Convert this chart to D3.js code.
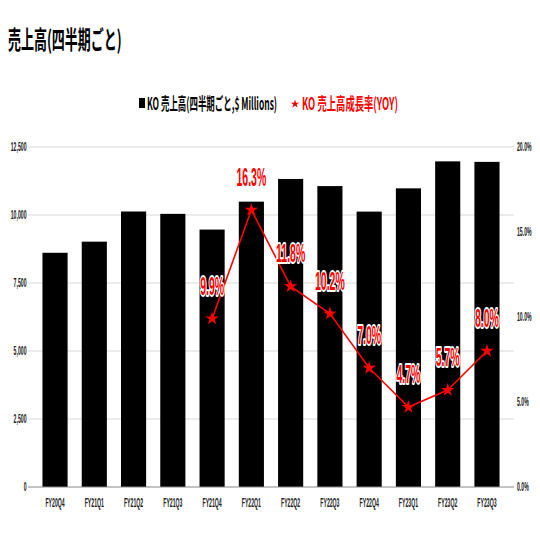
<!DOCTYPE html>
<html><head><meta charset="utf-8">
<script src="https://cdn.jsdelivr.net/npm/d3@7"></script>
<style>
html,body{margin:0;padding:0;background:#fff;}
svg{display:block;}
</style></head>
<body>
<svg id="chart" width="540" height="540"></svg>
<script>
const categories = ["FY20Q4","FY21Q1","FY21Q2","FY21Q3","FY21Q4","FY22Q1","FY22Q2","FY22Q3","FY22Q4","FY23Q1","FY23Q2","FY23Q3"];
const revenue = [8611, 9020, 10129, 10042, 9464, 10491, 11325, 11063, 10125, 10980, 11972, 11953];
const growth = [null, null, null, null, 9.9, 16.3, 11.8, 10.2, 7.0, 4.7, 5.7, 8.0];
const leftTicks = [0, 2500, 5000, 7500, 10000, 12500];
const rightTicks = [0, 5, 10, 15, 20];
const titleText = "売上高(四半期ごと)";
const legendBar = "KO 売上高(四半期ごと,$ Millions)";
const legendLine = "KO 売上高成長率(YOY)";

const svg = d3.select("#chart");
const FONT = "'Liberation Sans', Arial, sans-serif";
const CJK = "'Noto Sans CJK JP', 'Liberation Sans', sans-serif";
const SX = 0.43;

const x = d3.scaleBand().domain(categories).range([35.4, 506.6]).paddingInner(0.36).paddingOuter(0.18);
const yL = d3.scaleLinear().domain([0, 12500]).range([487, 147]);
const yR = d3.scaleLinear().domain([0, 20]).range([487, 147]);

// gridlines
svg.append("g").selectAll("line").data(leftTicks.filter(d => d > 0)).join("line")
  .attr("x1", 28).attr("x2", 514)
  .attr("y1", d => yL(d)).attr("y2", d => yL(d))
  .attr("stroke", "#d9d9d9").attr("stroke-width", 1);

// left axis
const gL = svg.append("g").attr("transform", "translate(28,0)")
  .call(d3.axisLeft(yL).tickValues(leftTicks).tickSize(0).tickPadding(0).tickFormat(d3.format(",")));
gL.select(".domain").remove();
gL.selectAll("text").attr("font-family", FONT).attr("font-size", 12).attr("font-weight", "bold").attr("fill", "#222")
  .attr("x", -1.5 / SX).attr("transform", `scale(${SX},1)`);

// right axis
const gR = svg.append("g").attr("transform", "translate(514,0)")
  .call(d3.axisRight(yR).tickValues(rightTicks).tickSize(0).tickPadding(0).tickFormat(d => d.toFixed(1) + "%"));
gR.select(".domain").remove();
gR.selectAll("text").attr("font-family", FONT).attr("font-size", 12).attr("font-weight", "bold").attr("fill", "#222")
  .attr("x", 3 / SX).attr("transform", `scale(${SX},1)`);

// bars
svg.append("g").selectAll("rect").data(categories).join("rect")
  .attr("x", d => x(d)).attr("width", x.bandwidth())
  .attr("y", (d, i) => yL(revenue[i])).attr("height", (d, i) => yL(0) - yL(revenue[i]))
  .attr("fill", "#000");

// baseline
svg.append("line").attr("x1", 28).attr("x2", 514).attr("y1", yL(0)).attr("y2", yL(0))
  .attr("stroke", "#888").attr("stroke-width", 1.2);

// x axis
const gX = svg.append("g").attr("transform", `translate(0,${yL(0)})`)
  .call(d3.axisBottom(x).tickSize(0).tickPadding(0));
gX.select(".domain").remove();
gX.selectAll("text").attr("font-family", FONT).attr("font-size", 12).attr("font-weight", "bold").attr("fill", "#222")
  .attr("y", 20).attr("dy", "0").attr("transform", `scale(${SX},1)`);

// growth line
const pts = categories.map((c, i) => ({c, v: growth[i]})).filter(d => d.v != null);
const line = d3.line().x(d => x(d.c) + x.bandwidth() / 2).y(d => yR(d.v));
svg.append("path").datum(pts).attr("d", line).attr("fill", "none")
  .attr("stroke", "#ff0000").attr("stroke-width", 1.6);
svg.append("g").selectAll("path").data(pts).join("path")
  .attr("d", d3.symbol(d3.symbolStar, 55))
  .attr("transform", d => `translate(${x(d.c) + x.bandwidth() / 2},${yR(d.v)})`)
  .attr("fill", "#ff0000");

// data labels
svg.append("g").selectAll("text").data(pts).join("text")
  .attr("transform", d => `translate(${x(d.c) + x.bandwidth() / 2},${yR(d.v) - 24}) scale(0.42,1)`)
  .attr("text-anchor", "middle")
  .attr("font-family", FONT).attr("font-weight", "bold").attr("font-size", 25)
  .attr("fill", "#ff0000").attr("stroke", "#fff").attr("stroke-width", 4)
  .attr("paint-order", "stroke").attr("stroke-linejoin", "round")
  .text(d => d.v.toFixed(1) + "%");

// title
svg.append("text").attr("transform", "translate(8,49) scale(0.52,1)")
  .attr("font-family", CJK).attr("font-weight", "bold").attr("font-size", 25).attr("fill", "#000")
  .text(titleText);

// legend
svg.append("rect").attr("x", 139).attr("y", 98).attr("width", 6).attr("height", 10).attr("fill", "#000");
svg.append("text").attr("transform", "translate(147,110) scale(0.5,1)")
  .attr("font-family", CJK).attr("font-weight", "bold").attr("font-size", 17).attr("fill", "#000")
  .attr("textLength", 260).attr("lengthAdjust", "spacingAndGlyphs")
  .text(legendBar);
svg.append("path").attr("d", d3.symbol(d3.symbolStar, 22)).attr("transform", "translate(295,104)").attr("fill", "#ff0000");
svg.append("text").attr("transform", "translate(302,110) scale(0.5,1)")
  .attr("font-family", CJK).attr("font-weight", "bold").attr("font-size", 17).attr("fill", "#ff0000")
  .attr("textLength", 192).attr("lengthAdjust", "spacingAndGlyphs")
  .text(legendLine);
</script>
</body></html>
